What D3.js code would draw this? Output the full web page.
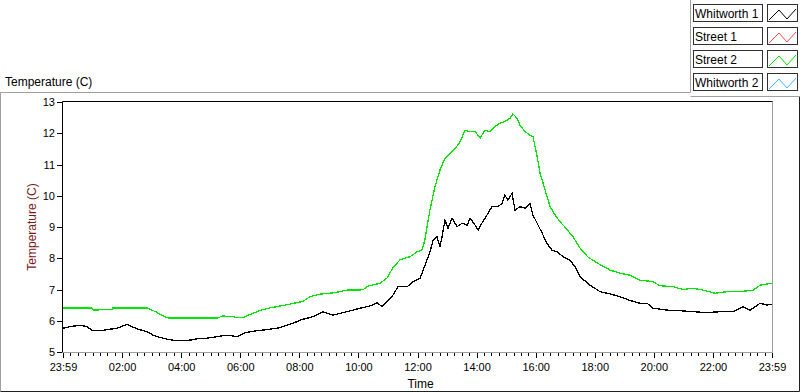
<!DOCTYPE html>
<html>
<head>
<meta charset="utf-8">
<script src="https://cdn.jsdelivr.net/npm/d3@7"></script>
<style>
  body { margin: 0; background: #fff; }
  svg { display: block; font-family: "Liberation Sans", Arial, sans-serif; }
</style>
</head>
<body>
<script>
// legend entries (only Whitworth 1 and Street 2 have data on the plot)
const seriesNames = ['Whitworth 1', 'Street 1', 'Street 2', 'Whitworth 2'];
const seriesColors = ['#000000', '#ff4a4a', '#00e600', '#3cb8ff'];

// hours since 23:59 -> temperature (C)
const whitworth1Hours = [0, 0.24, 0.58, 0.81, 0.98, 1.25, 1.59, 1.83, 2.17, 2.34, 2.54, 2.84, 3.05, 3.28, 3.52, 3.86,
  4.3, 4.54, 4.87, 5.21, 5.55, 5.89, 6.16, 6.57, 7.01, 7.35, 7.58, 7.92, 8.02, 8.46, 8.8, 9.14, 9.61, 10.05, 10.39,
  10.63, 10.8, 10.97, 11.17, 11.34, 11.65, 11.85, 12.09, 12.19, 12.32, 12.42, 12.53, 12.66, 12.76, 12.83, 12.93,
  13.03, 13.17, 13.34, 13.51, 13.68, 13.78, 13.95, 14.05, 14.18, 14.35, 14.52, 14.73, 14.86, 14.96, 15.06, 15.2,
  15.3, 15.47, 15.64, 15.81, 15.91, 16.05, 16.22, 16.38, 16.55, 16.72, 16.93, 17.16, 17.33, 17.5, 17.84, 18.18,
  18.52, 18.86, 19.19, 19.53, 19.77, 19.97, 20.45, 20.89, 21.33, 21.8, 22.24, 22.68, 23.02, 23.26, 23.6, 23.83, 24];
const whitworth1Temp = [5.76, 5.81, 5.86, 5.81, 5.7, 5.68, 5.73, 5.76, 5.89, 5.81, 5.73, 5.65, 5.54, 5.47, 5.41, 5.36,
  5.38, 5.42, 5.44, 5.49, 5.54, 5.49, 5.62, 5.68, 5.73, 5.78, 5.86, 5.97, 6.02, 6.13, 6.29, 6.18, 6.29, 6.4, 6.47,
  6.58, 6.45, 6.61, 6.82, 7.09, 7.09, 7.25, 7.36, 7.62, 7.94, 8.2, 8.58, 8.69, 8.37, 8.69, 9.22,
  8.96, 9.28, 9.01, 9.12, 9.06, 9.28, 9.06, 8.9, 9.12, 9.38, 9.65, 9.65, 9.76, 10.02, 9.86, 10.08,
  9.54, 9.65, 9.6, 9.74, 9.38, 9.12, 8.8, 8.48, 8.26, 8.21, 8.05, 7.94, 7.73, 7.41, 7.14, 6.93,
  6.86, 6.77, 6.65, 6.56, 6.56, 6.4, 6.34, 6.32, 6.29, 6.26, 6.29, 6.29, 6.45, 6.34, 6.56, 6.5, 6.53];

const street2Hours = [0, 0.98, 1.02, 1.25, 1.66, 1.69, 2.84, 3.11, 3.35, 3.55, 5.25, 5.38, 5.75, 5.86, 6.09, 6.33,
  6.67, 7.0, 7.52, 7.92, 8.12, 8.36, 8.7, 9.21, 9.61, 10.16, 10.29, 10.73, 10.97, 11.17, 11.41, 11.75, 11.98,
  12.15, 12.25, 12.42, 12.59, 12.76, 12.93, 13.1, 13.27, 13.44, 13.61, 13.78, 13.95, 14.12, 14.29, 14.45, 14.62,
  14.79, 14.96, 15.13, 15.23, 15.37, 15.47, 15.64, 15.81, 15.91, 16.05, 16.15, 16.32, 16.49, 16.66, 16.82, 16.99,
  17.26, 17.5, 17.77, 18.08, 18.52, 18.86, 19.19, 19.53, 19.97, 20.21, 20.65, 20.99, 21.33, 21.67, 22.07, 22.48,
  22.92, 23.36, 23.6, 24];
const street2Temp = [6.41, 6.41, 6.34, 6.35, 6.36, 6.41, 6.41, 6.3, 6.18, 6.09, 6.09, 6.15, 6.14, 6.1, 6.1, 6.2,
  6.33, 6.41, 6.5, 6.58, 6.62, 6.77, 6.85, 6.9, 6.98, 6.99, 7.1, 7.2, 7.37, 7.7, 7.95, 8.05, 8.2,
  8.26, 8.58, 9.54, 10.29, 10.82, 11.2, 11.36, 11.5, 11.73, 12.1, 12.05, 12.05, 11.85, 12.1, 12.05, 12.21,
  12.32, 12.37, 12.48, 12.62, 12.48, 12.26, 12.05, 11.94, 11.89, 11.25, 10.72, 10.18, 9.65, 9.38, 9.17, 9.0,
  8.69, 8.33, 8.04, 7.85, 7.62, 7.52, 7.46, 7.3, 7.25, 7.12, 7.09, 7.0, 7.04, 6.98, 6.88, 6.93,
  6.93, 6.98, 7.14, 7.2];

const yTicks = [5, 6, 7, 8, 9, 10, 11, 12, 13];
const xTicks = [0, 2, 4, 6, 8, 10, 12, 14, 16, 18, 20, 22, 24];
const xTickLabels = ['23:59', '02:00', '04:00', '06:00', '08:00', '10:00', '12:00', '14:00', '16:00', '18:00', '20:00', '22:00', '23:59'];

const w = 800;
const h = 392;
const plotLeft = 63, plotRight = 772, plotTop = 102, plotBottom = 352;

const svg = d3.select('body').append('svg').attr('width', w).attr('height', h);

const xScale = d3.scaleLinear().domain([0, 24]).range([plotLeft, plotRight]);
const yScale = d3.scaleLinear().domain([5, 13]).range([plotBottom, plotTop]);

// outer panel
svg.append('path').attr('d', 'M0.5,391.5 V92.5 H690').attr('fill', 'none').attr('stroke', '#a0a0a0');
svg.append('path').attr('d', 'M0.5,391.5 H799.5 V96').attr('fill', 'none').attr('stroke', '#202020');
svg.append('path').attr('d', 'M690.5,92.5 V0').attr('fill', 'none').attr('stroke', '#a0a0a0');
svg.append('path').attr('d', 'M690.5,96.5 H800').attr('fill', 'none').attr('stroke', '#a0a0a0');

svg.append('text').text('Temperature (C)').attr('x', 5).attr('y', 86).style('font-size', '12px');

// plot frame
svg.append('path').attr('d', `M${plotRight + 0.5},${plotTop - 0.5} V${plotBottom + 0.5} H${plotLeft}`).attr('fill', 'none').attr('stroke', '#a0a0a0');
svg.append('path').attr('d', `M${plotLeft - 0.5},${plotBottom + 0.5} V${plotTop - 0.5} H${plotRight + 0.5}`).attr('fill', 'none').attr('stroke', '#000');

// axes
const minorTicks = d3.range(0, 24.01, 0.25).filter((d) => d % 2 !== 0);
const xMinor = d3.axisBottom(xScale).tickValues(minorTicks).tickSize(3).tickFormat('');
const xAxis = d3.axisBottom(xScale).tickValues(xTicks).tickSize(5).tickPadding(5).tickFormat((d, i) => xTickLabels[i]);
const yAxis = d3.axisLeft(yScale).tickValues(yTicks).tickSize(5).tickPadding(2).tickFormat(d3.format('d'));

svg.append('g').attr('transform', `translate(0, ${plotBottom + 1})`).call(xMinor).call((g) => g.select('.domain').remove());
svg.append('g').attr('transform', `translate(0, ${plotBottom + 1})`).style('font-size', '11px').style('font-family', '"Liberation Sans", Arial, sans-serif')
  .call(xAxis).call((g) => g.select('.domain').remove());
svg.append('g').attr('transform', `translate(${plotLeft - 1}, 0)`).style('font-size', '11px').style('font-family', '"Liberation Sans", Arial, sans-serif')
  .call(yAxis).call((g) => g.select('.domain').remove());
svg.selectAll('.tick line').attr('shape-rendering', 'crispEdges');

svg.append('text').text('Time').attr('x', (plotLeft + plotRight) / 2 + 3).attr('y', 388).attr('text-anchor', 'middle').style('font-size', '12px');
svg.append('text').text('Temperature (C)').attr('text-anchor', 'middle').style('font-size', '12px').attr('fill', '#7a1a1a')
  .attr('transform', `translate(36, ${(plotTop + plotBottom) / 2}) rotate(-90)`);

// data lines
const line = d3.line().x((d) => xScale(d[0])).y((d) => yScale(d[1]));
const plotted = [
  { pts: d3.zip(street2Hours, street2Temp), color: seriesColors[2] },
  { pts: d3.zip(whitworth1Hours, whitworth1Temp), color: seriesColors[0] }
];
svg.selectAll('.series').data(plotted).enter().append('path').attr('class', 'series')
  .attr('d', (d) => line(d.pts)).attr('fill', 'none').attr('stroke', (d) => d.color)
  .attr('stroke-width', 1.3).attr('shape-rendering', 'crispEdges');

// legend
const legend = svg.append('g').selectAll('g').data(seriesNames).enter().append('g')
  .attr('transform', (d, i) => `translate(0, ${4 + i * 23})`);
legend.append('rect').attr('x', 693.5).attr('y', 0.5).attr('width', 69).attr('height', 17)
  .attr('fill', '#fff').attr('stroke', '#303030');
legend.append('text').text((d) => d).attr('x', 695).attr('y', 13.5).style('font-size', '12px');
legend.append('rect').attr('x', 767.5).attr('y', 0.5).attr('width', 30).attr('height', 17)
  .attr('fill', '#fff').attr('stroke', '#303030');
legend.append('path').attr('d', 'M769,16 L779,6 L787,15 L796,5').attr('fill', 'none')
  .attr('stroke', (d, i) => seriesColors[i]).attr('stroke-width', 1);
</script>
</body>
</html>
